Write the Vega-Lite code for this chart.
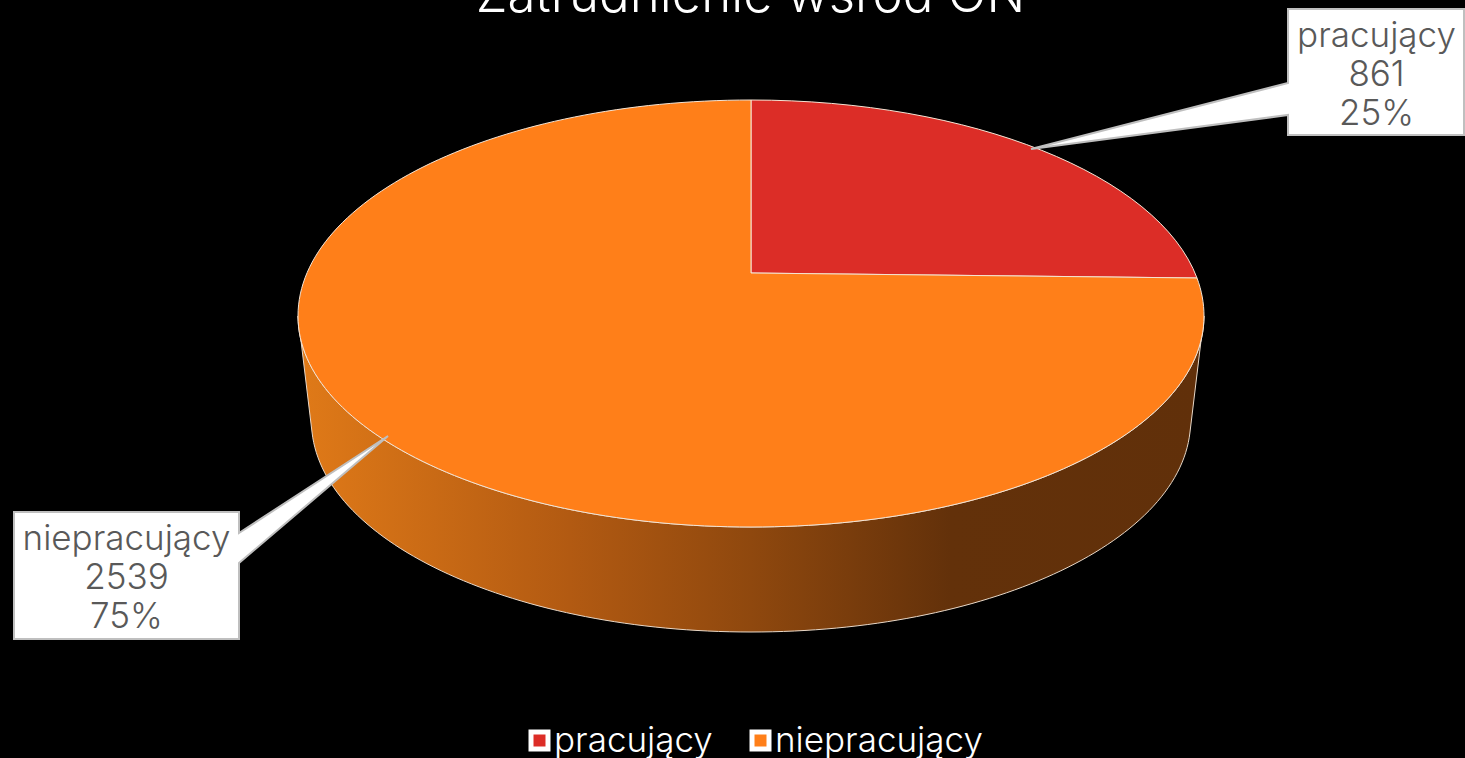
{
"$schema":"https://vega.github.io/schema/vega-lite/v6.json",
"width":1465,"height":758,"autosize":{"type":"none"},"padding":0,"background":"#000000",
"config":{"view":{"stroke":null}},
"title":{"text":"Zatrudnienie wśród ON","font":"Inter","fontWeight":300,"fontSize":51,"color":"#ffffff","anchor":"middle","frame":"group","offset":0,"dx":18,"dy":63,"baseline":"alphabetic"},
"data":{"values":[{"name":"pracujący","count":861,"share":"25%"},{"name":"niepracujący","count":2539,"share":"75%"}]},
"layer":[
{"transform":[{"filter":"datum.name === 'niepracujący'"}],
 "mark":{"type":"point","filled":true,"opacity":1,"size":4,"stroke":"#e8d8c8","strokeWidth":1,
  "shape":"M471.5,-63 L457.5,53 A439,211 0 0 1 18.5,253 A439,211 0 0 1 -420.5,53 L-434.5,-63 A453,211 0 0 0 18.5,148 A453,211 0 0 0 471.5,-63 Z",
  "fill":{"gradient":"linear","x1":0,"y1":0,"x2":1,"y2":0,"stops":[{"offset":0,"color":"#e07a18"},{"offset":0.3,"color":"#b25a12"},{"offset":0.5,"color":"#8f480e"},{"offset":0.72,"color":"#63310a"},{"offset":1,"color":"#61300a"}]}},
 "encoding":{}},
{"transform":[{"filter":"datum.name === 'pracujący'"}],
 "mark":{"type":"point","filled":true,"opacity":1,"size":4,"stroke":"#f4e4d4","strokeWidth":1,"shape":"M18.5,-106 L18.5,-279 A453,216 0 0 1 464.5,-101 Z"},
 "encoding":{
  "fill":{"field":"name","type":"nominal","scale":{"domain":["pracujący","niepracujący"],"range":["#dc2d27","#ff7f19"]},
   "legend":{"title":null,"orient":"none","legendX":522,"legendY":723,"direction":"horizontal","columns":2,"symbolType":"square","symbolSize":289,"symbolStrokeColor":"#ffffff","symbolStrokeWidth":5,"labelColor":"#ffffff","labelFont":"Inter","labelFontWeight":300,"labelFontSize":35,"labelOffset":-3,"columnPadding":29,"labelLimit":400}}
 }},
{"transform":[{"filter":"datum.name === 'niepracujący'"}],
 "mark":{"type":"point","filled":true,"opacity":1,"size":4,"stroke":"#f4e4d4","strokeWidth":1,"shape":"M18.5,-106 L464.5,-101 A453,216 0 0 1 471.5,-63 A453,211 0 0 1 18.5,148 A453,211 0 0 1 -434.5,-63 A453,216 0 0 1 18.5,-279 Z"},
 "encoding":{"fill":{"field":"name","type":"nominal"}}},
{"transform":[{"filter":"datum.name === 'pracujący'"}],
 "mark":{"type":"point","filled":true,"opacity":1,"size":4,"fill":"#ffffff","stroke":"#bfbfbf","strokeWidth":2,
  "shape":"M555.5,-370 L731.5,-370 L731.5,-244 L555.5,-244 L555.5,-264 L298.5,-230 L555.5,-296 Z"},"encoding":{}},
{"transform":[{"filter":"datum.name === 'niepracujący'"}],
 "mark":{"type":"point","filled":true,"opacity":1,"size":4,"fill":"#ffffff","stroke":"#bfbfbf","strokeWidth":2,
  "shape":"M-718.5,133 L-493.5,133 L-493.5,154 L-344.5,57 L-493.5,184 L-493.5,260 L-718.5,260 Z"},"encoding":{}},
{"mark":{"type":"text","font":"Inter","fontWeight":300,"fontSize":35,"color":"#595959","dy":-39},
 "encoding":{"x":{"field":"name","type":"nominal","axis":null,"scale":{"type":"point","padding":0,"domain":["pracujący","niepracujący"],"range":[1376.5,126.5]}},
  "y":{"field":"name","type":"nominal","axis":null,"scale":{"type":"point","padding":0,"domain":["pracujący","niepracujący"],"range":[75,578]}},
  "text":{"field":"name"}}},
{"mark":{"type":"text","font":"Inter","fontWeight":300,"fontSize":35,"color":"#595959","dy":0},
 "encoding":{"x":{"field":"name","type":"nominal","axis":null},"y":{"field":"name","type":"nominal","axis":null},"text":{"field":"count","type":"quantitative"}}},
{"mark":{"type":"text","font":"Inter","fontWeight":300,"fontSize":35,"color":"#595959","dy":39},
 "encoding":{"x":{"field":"name","type":"nominal","axis":null},"y":{"field":"name","type":"nominal","axis":null},"text":{"field":"share"}}}
]
}
